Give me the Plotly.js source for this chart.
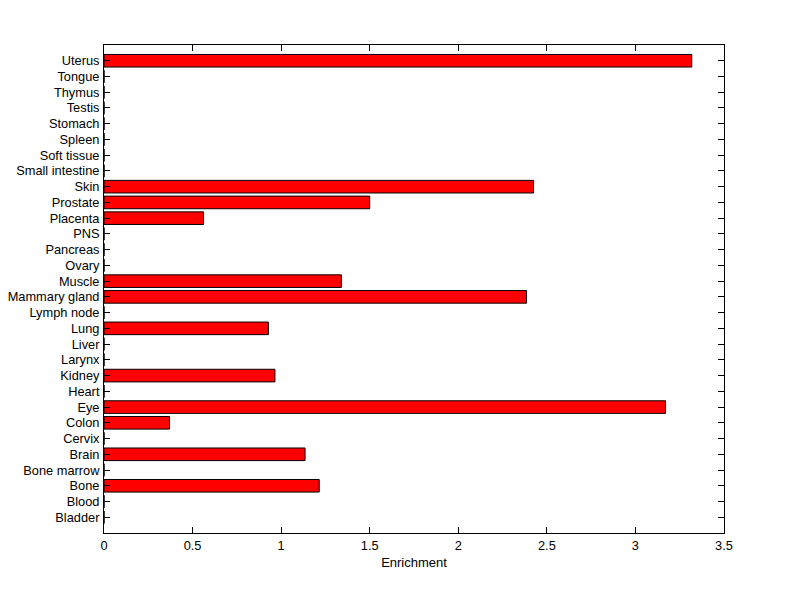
<!DOCTYPE html>
<html><head><meta charset="utf-8">
<script src="https://cdn.plot.ly/plotly-3.0.1.min.js"></script>
<style>body{margin:0;padding:0;background:#fff}#chart{width:800px;height:599px}</style>
</head><body><div id="chart"></div>
<script>
const tissues = ["Bladder","Blood","Bone","Bone marrow","Brain","Cervix","Colon","Eye","Heart","Kidney","Larynx","Liver","Lung","Lymph node","Mammary gland","Muscle","Ovary","Pancreas","PNS","Placenta","Prostate","Skin","Small intestine","Soft tissue","Spleen","Stomach","Testis","Thymus","Tongue","Uterus"];
const enrichment = [0,0,1.215,0,1.135,0,0.37,3.17,0,0.965,0,0,0.928,0,2.385,1.34,0,0,0,0.562,1.5,2.425,0,0,0,0,0,0,0,3.318];
const xTicks = [0,0.5,1,1.5,2,2.5,3,3.5];
const xTickText = ["0","0.5","1","1.5","2","2.5","3","3.5"];

const trace = {
  type: "bar", orientation: "h",
  x: enrichment, y: tissues.map((_, i) => i),
  width: 0.8,
  marker: {color: "#ff0000", line: {color: "#000", width: 1}},
  hoverinfo: "none"
};
const layout = {
  width: 800, height: 599,
  margin: {l: 104, r: 76, t: 45, b: 66},
  paper_bgcolor: "#fff", plot_bgcolor: "#fff",
  font: {family: "Liberation Sans, Arial, sans-serif", size: 12.8, color: "#000"},
  showlegend: false,
  bargap: 0.2,
  xaxis: {
    range: [0, 3.5], tickvals: xTicks, ticktext: xTickText,
    ticks: "inside", ticklen: 6, tickcolor: "#000", tickwidth: 1,
    showgrid: false, zeroline: false, showline: true, linecolor: "#000", linewidth: 1,
    mirror: "ticks", ticklabelstandoff: 1,
    title: {text: "Enrichment", font: {size: 13}, standoff: 5}
  },
  yaxis: {
    range: [-1, 30], tickvals: tissues.map((_, i) => i), ticktext: tissues,
    ticks: "inside", ticklen: 6, tickcolor: "#000", tickwidth: 1,
    showgrid: false, zeroline: false, showline: true, linecolor: "#000", linewidth: 1,
    mirror: "ticks", automargin: false, ticklabelstandoff: 1
  }
};
Plotly.newPlot("chart", [trace], layout, {displayModeBar: false, staticPlot: true});
</script></body></html>
